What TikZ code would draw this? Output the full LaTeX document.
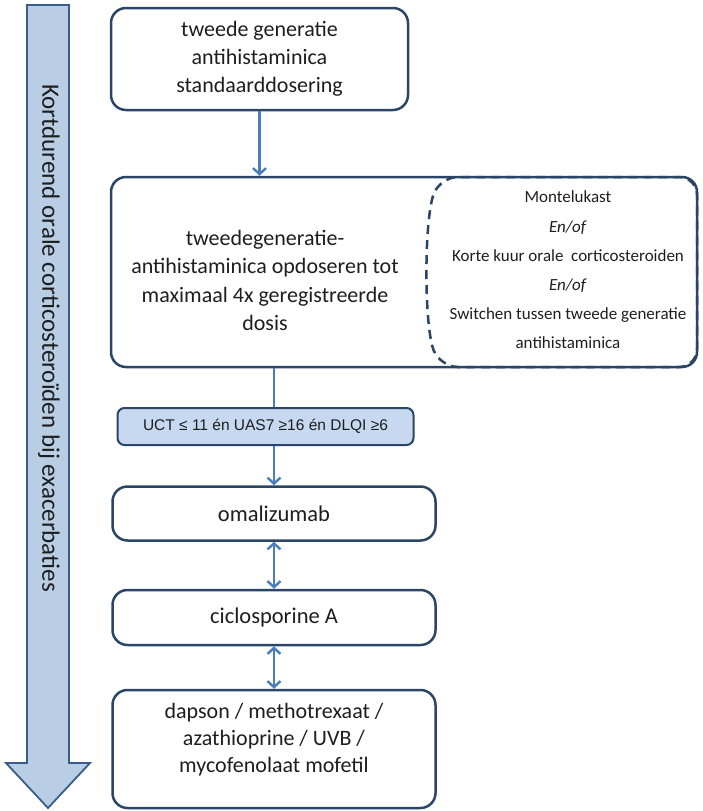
\documentclass[tikz,border=0pt]{standalone}
\usepackage{fontspec}
\setmainfont{Carlito}
\newfontfamily\condfont{Liberation Sans}
\usetikzlibrary{arrows.meta,calc}

\definecolor{boxline}{HTML}{2A4566}
\definecolor{flowblue}{HTML}{4A7EBB}
\definecolor{arrowfill}{HTML}{B9CDE5}
\definecolor{arrowline}{HTML}{385D8A}
\definecolor{condfill}{HTML}{C6D9F1}
\definecolor{txt}{HTML}{1E1E1E}

\tikzset{
	box/.style={draw=boxline, line width=2.5pt, rounded corners=15pt, inner sep=0pt, text=txt},
	condbox/.style={draw=boxline, line width=2pt, fill=condfill, rounded corners=7pt, inner sep=0pt, text=txt,
		font=\condfont\fontsize{15.5}{18}\selectfont},
	flow/.style={draw=flowblue, line width=2.4pt},
	flowarrow/.style={flow, -{Straight Barb[length=6pt,width=13pt,line width=2.4pt]}},
	flowboth/.style={flow, {Straight Barb[length=6pt,width=13pt,line width=2.4pt]}-{Straight Barb[length=6pt,width=13pt,line width=2.4pt]}},
}

\begin{document}
\begin{tikzpicture}[x=1pt,y=-1pt]
		\useasboundingbox (0,0) rectangle (702,811);
		% big arrow on the left
		\draw[fill=arrowfill, draw=arrowline, line width=1.8pt, line join=miter]
			(27,5) -- (69,5) -- (69,763) -- (90,763) -- (48,808) -- (6,763) -- (27,763) -- cycle;
		\node[rotate=-90, text=txt, font=\fontsize{25}{28}\selectfont] (sidetext) at (49,338) {Kortdurend orale corticosteroïden bij exacerbaties};
		% boxes
		\node[box, minimum width=297pt, minimum height=102pt] (start) at (259.5,59) {};
		\node[text=txt, align=center, font=\fontsize{22}{28}\selectfont] (starttext) at (259.5,59) {tweede generatie\\antihistaminica\\standaarddosering};
		\node[box, minimum width=586pt, minimum height=190pt] (updose) at (404,272) {};
		\draw[draw=boxline, line width=2.5pt, dash pattern=on 9pt off 6pt, rounded corners=18pt]
			(560,177) -- (440,177) .. controls (424,220) and (424,325) .. (440,367) -- (697,367) -- (697,177) -- (560,177);
		\node[text=txt, align=center, font=\fontsize{22}{28.5}\selectfont] (updosetext) at (265,280.5)
			{tweedegeneratie-\\antihistaminica opdoseren tot\\maximaal 4x geregistreerde\\dosis};
		\node[text=txt, align=center, font=\fontsize{17}{29.2}\selectfont] (extra) at (568,270)
			{Montelukast\\\textit{En/of}\\Korte kuur orale\ \ corticosteroiden\\\textit{En/of}\\Switchen tussen tweede generatie\\antihistaminica};
		\node[condbox, minimum width=296pt, minimum height=37pt] (cond) at (265.5,426.5) {UCT ≤ 11 én UAS7 ≥16 én DLQI ≥6};
		\node[box, minimum width=323pt, minimum height=54pt, font=\fontsize{22.5}{26}\selectfont] (omal) at (274,513.5) {omalizumab};
		\node[box, minimum width=323pt, minimum height=55pt, font=\fontsize{22.5}{26}\selectfont] (ciclo) at (274,617.5) {ciclosporine A};
		\node[box, minimum width=323pt, minimum height=118pt] (other) at (274,749) {};
		\node[text=txt, align=center, font=\fontsize{22}{27}\selectfont] (othertext) at (274,740)
			{dapson / methotrexaat /\\azathioprine / UVB /\\mycofenolaat mofetil};
		% connectors
		\draw[flowarrow] (start.south) -- (start.south |- updose.north);
		\draw[flow] (updose.south -| omal.center) -- (cond.north -| omal.center);
		\draw[flowarrow] (cond.south -| omal.center) -- (omal.north);
		\draw[flowboth] (omal.south) -- (ciclo.north);
		\draw[flowboth] (ciclo.south) -- (other.north);
	\end{tikzpicture}
\end{document}
